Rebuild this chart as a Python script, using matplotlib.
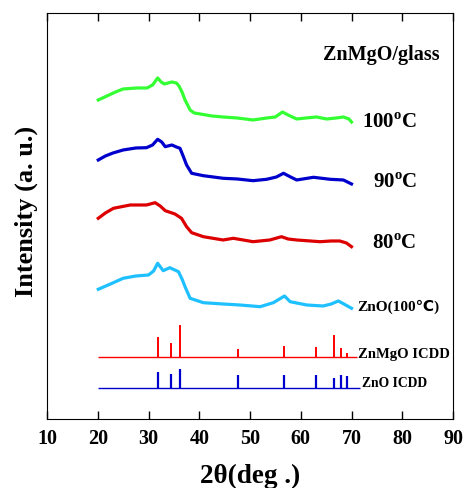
import matplotlib
matplotlib.use("Agg")
import matplotlib.pyplot as plt

plt.rcParams['font.family'] = ['Liberation Serif', 'DejaVu Sans']
plt.rcParams['font.weight'] = 'bold'
plt.rcParams['mathtext.fontset'] = 'custom'
plt.rcParams['mathtext.rm'] = 'Liberation Serif:bold'
plt.rcParams['mathtext.bf'] = 'Liberation Serif:bold'

# --- data (arbitrary intensity units, offsets included) ---
x_100 = [20.1, 21.8, 23.5, 25, 27.7, 29.7, 30.8, 31.8, 32.5, 33.1, 34.6, 35.5, 36.0, 36.6, 37.2,
         38.2, 39.0, 40.2, 42.5, 44.7, 47.5, 50.6, 53.3, 55.0, 56.4, 57.5, 59.2, 61, 63.1, 65.1,
         67, 68.4, 69.5, 70]
y_100 = [319, 323, 327, 330, 331, 331, 334, 341, 337, 335, 337, 336, 333, 327, 319,
         309, 306, 305, 303, 302, 301, 299, 301, 302, 307, 304, 300, 301, 302, 300,
         301, 302, 300, 297]

x_90 = [20.1, 21.5, 23, 25, 27.5, 29.6, 30.8, 31.8, 32.6, 33.3, 34.6, 35.5, 36.2, 36.9, 37.5,
        38.5, 40.8, 44.7, 47.5, 50.6, 53.3, 55.2, 56.6, 58, 59.2, 62.5, 65.8, 68.4, 70]
y_90 = [259, 263, 266, 269, 271, 271.3, 274, 279.7, 277, 272.3, 274, 272, 270.7, 262, 254,
        245.7, 243.3, 240.7, 240, 238.3, 239.7, 242, 245.7, 242, 239, 241.7, 239.7, 239, 235]

x_80 = [20.1, 21.5, 23.1, 26.4, 29.6, 31.3, 32.3, 33.3, 35.2, 36.5, 37.5, 38.5, 40.8, 44.7,
        46.7, 50.6, 53.9, 56.2, 57.5, 59.2, 63.8, 66, 67.7, 69, 70]
y_80 = [200.7, 206, 210.7, 214, 214, 216.3, 213, 208.3, 205, 200.7, 192.3, 186.3, 182.3, 179,
        180.7, 177.3, 179, 182.3, 180, 179, 177.3, 178, 178, 176, 172.3]

x_zno = [20.1, 22.5, 25, 27.5, 30, 31, 31.8, 32.9, 34.2, 35.9, 36.6, 37.2, 38.2, 40.8, 44.7,
         48, 52, 54.6, 56.8, 57.9, 61.2, 64.4, 66, 67.4, 68.5, 70]
y_zno = [129.7, 135, 140.7, 143, 144, 148, 155.7, 148.3, 151.3, 147.3, 140, 132.3, 120.7, 116.3, 115,
         114, 112.3, 116.3, 123, 117.3, 114, 113, 115, 118, 115, 110.7]

icdd_pos = [31.8, 34.45, 36.3, 47.6, 56.7, 63.0, 66.5, 68.0, 69.1]
znmgo_h = [20, 14.7, 32.3, 8, 11.3, 10, 22.3, 9, 4.7]
zno_h = [15.7, 13.3, 19, 12.3, 12.3, 12.3, 10, 12.3, 11.3]
znmgo_base = 61.7
zno_base = 31.3

xticks = [10, 20, 30, 40, 50, 60, 70, 80, 90]

fig = plt.figure(figsize=(4.65, 4.88), dpi=100)
ax = fig.add_axes([0.1011, 0.1414, 0.8731, 0.832])

ax.plot(x_100, y_100, color='#33FF33', lw=2.3)
ax.plot(x_90, y_90, color='#0000CC', lw=2.3)
ax.plot(x_80, y_80, color='#DD0000', lw=2.3)
ax.plot(x_zno, y_zno, color='#1EC0FF', lw=2.3)

ax.hlines(znmgo_base, 20.1, 71.0, color='#FF0000', lw=1.0)
ax.vlines(icdd_pos, znmgo_base, [znmgo_base + h for h in znmgo_h], color='#FF0000', lw=1.4)
ax.hlines(zno_base, 20.1, 71.7, color='#0000CC', lw=1.0)
ax.vlines(icdd_pos, zno_base, [zno_base + h for h in zno_h], color='#0000CC', lw=1.6)

ax.set_xlim(10, 90)
ax.set_ylim(0, 406)
ax.set_xticks(xticks)
ax.set_xticklabels([str(t) for t in xticks], fontsize=14.5, fontweight='bold')
ax.set_yticks([])
ax.tick_params(axis='x', direction='in', top=True, length=6, width=1, pad=7)

ax.set_xlabel('2θ(deg .)', fontsize=19.5, fontweight='bold', labelpad=11)
ax.set_ylabel('Intensity (a. u.)', fontsize=19, fontweight='bold')
ax.yaxis.set_label_coords(-0.022, 0.51)

ax.text(75.9, 364, 'ZnMgO/glass', fontsize=14.5, fontweight='bold', ha='center', va='center')
ax.text(72.1, 296, '100$^{\\mathrm{o}}$C', fontsize=15, fontweight='bold', ha='left', va='center')
ax.text(74.2, 236, '90$^{\\mathrm{o}}$C', fontsize=15, fontweight='bold', ha='left', va='center')
ax.text(74.0, 175, '80$^{\\mathrm{o}}$C', fontsize=15, fontweight='bold', ha='left', va='center')
ax.text(71.1, 112, 'ZnO(100℃)', fontsize=11, fontweight='bold', ha='left', va='center')
ax.text(71.3, 64.3, 'ZnMgO ICDD', fontsize=10.5, fontweight='bold', ha='left', va='center')
ax.text(72.1, 35, 'ZnO ICDD', fontsize=9.8, fontweight='bold', ha='left', va='center')

fig.savefig('out.png', dpi=100)
